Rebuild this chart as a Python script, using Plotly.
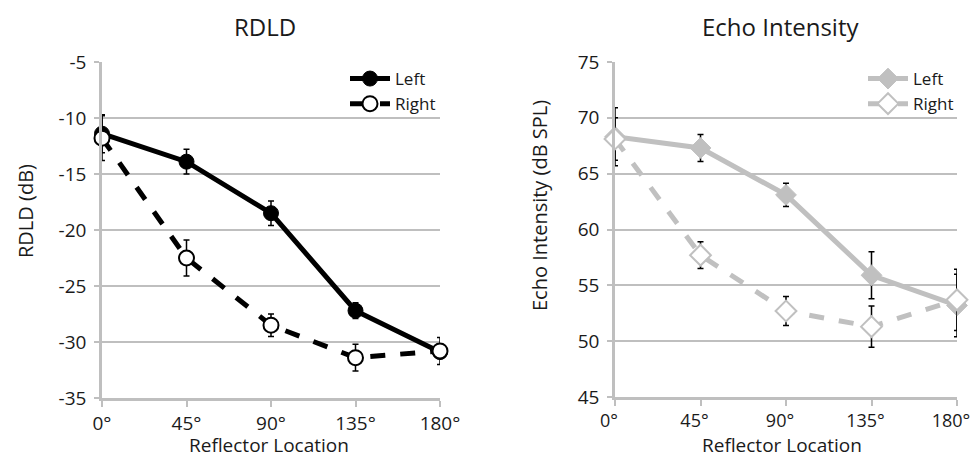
import plotly.graph_objects as go

# ---- data ----
angles = [0, 45, 90, 135, 180]
angle_labels = ["0°", "45°", "90°", "135°", "180°"]

rdld_left = [-11.4, -13.9, -18.5, -27.2, -30.9]
rdld_left_err = [1.7, 1.1, 1.1, 0.7, 0.5]
rdld_right = [-11.8, -22.5, -28.5, -31.4, -30.8]
rdld_right_err = [2.0, 1.6, 1.0, 1.2, 1.2]

echo_left = [68.3, 67.3, 63.1, 55.9, 53.2]
echo_left_err = [2.6, 1.2, 1.05, 2.1, 2.8]
echo_right = [68.1, 57.7, 52.7, 51.3, 53.7]
echo_right_err = [1.9, 1.2, 1.3, 1.85, 2.75]

rdld_ticks = [-5, -10, -15, -20, -25, -30, -35]
rdld_ticklabels = ["-5", "-10", "-15", "-20", "-25", "-30", "-35"]
echo_ticks = [75, 70, 65, 60, 55, 50, 45]
echo_ticklabels = ["75", "70", "65", "60", "55", "50", "45"]

FONT = "Open Sans"
GRID = "#bfbfbf"
LGRAY = "#c0c0c0"
TXT = "#1a1a1a"

fig = go.Figure()

def err(vals):
    return dict(type="data", array=vals, color="black", thickness=1.5, width=3)

fig.add_trace(go.Scatter(
    x=angles, y=rdld_left, name="Left", mode="lines+markers",
    line=dict(color="black", width=5),
    marker=dict(symbol="circle", size=15, color="black", line=dict(color="black", width=1)),
    error_y=err(rdld_left_err), xaxis="x", yaxis="y", legend="legend", cliponaxis=False))
fig.add_trace(go.Scatter(
    x=angles, y=rdld_right, name="Right", mode="lines+markers",
    line=dict(color="black", width=5, dash="dash"),
    marker=dict(symbol="circle", size=15, color="white", line=dict(color="black", width=2)),
    error_y=err(rdld_right_err), xaxis="x", yaxis="y", legend="legend", cliponaxis=False))

fig.add_trace(go.Scatter(
    x=angles, y=echo_left, name="Left", mode="lines+markers",
    line=dict(color=LGRAY, width=5),
    marker=dict(symbol="diamond", size=16, color=LGRAY, line=dict(color=LGRAY, width=1)),
    error_y=err(echo_left_err), xaxis="x2", yaxis="y2", legend="legend2", cliponaxis=False))
fig.add_trace(go.Scatter(
    x=angles, y=echo_right, name="Right", mode="lines+markers",
    line=dict(color=LGRAY, width=5, dash="dash"),
    marker=dict(symbol="diamond", size=16, color="white", line=dict(color=LGRAY, width=2)),
    error_y=err(echo_right_err), xaxis="x2", yaxis="y2", legend="legend2", cliponaxis=False))

# page body has an 8px margin; figure is sized to fit the 978x466 window exactly
OFF = 8
W, H = 978 - 2 * OFF, 466 - 2 * OFF
def px(x):
    return (x - OFF) / W
def py(y):
    return 1 - (y - OFF) / H

xcommon = dict(
    range=[0, 180], tickvals=angles, ticktext=angle_labels, automargin=False,
    showgrid=False, zeroline=False, showline=True, linecolor=GRID, linewidth=2.5,
    ticks="outside", ticklen=6, tickcolor=GRID, tickwidth=2, ticklabeloverflow="allow",
    tickfont=dict(family=FONT, size=19, color=TXT),
)
ycommon = dict(
    showgrid=True, gridcolor=GRID, gridwidth=2, zeroline=False, automargin=False,
    showline=True, linecolor=GRID, linewidth=2.5,
    ticks="outside", ticklen=5, tickcolor=GRID, tickwidth=2, ticklabelstandoff=4,
    tickfont=dict(family=FONT, size=19, color=TXT),
)

def ann(text, x, y, size, angle=0, yanchor="middle"):
    return dict(text=text, x=px(x), y=py(y), xref="paper", yref="paper",
                xanchor="center", yanchor=yanchor, textangle=angle,
                showarrow=False, font=dict(family=FONT, size=size, color=TXT))

x2 = dict(xcommon)
x2["tickfont"] = dict(family=FONT, size=18, color=TXT)
x2["ticklabelshift"] = -6

fig.update_layout(
    width=W, height=H,
    margin=dict(l=0, r=0, t=0, b=0, autoexpand=False),
    paper_bgcolor="white", plot_bgcolor="white",
    font=dict(family=FONT, color=TXT),
    xaxis=dict(domain=[px(102), px(440)], anchor="y", **xcommon),
    yaxis=dict(domain=[py(398), py(62)], anchor="x", range=[-35, -5],
               tickvals=rdld_ticks, ticktext=rdld_ticklabels, **ycommon),
    xaxis2=dict(domain=[px(615), px(957)], anchor="y2", **x2),
    yaxis2=dict(domain=[py(397), py(62)], anchor="x2", range=[45, 75],
                tickvals=echo_ticks, ticktext=echo_ticklabels, **ycommon),
    legend=dict(x=px(345), y=py(61), xanchor="left", yanchor="top",
                bgcolor="rgba(0,0,0,0)", font=dict(family=FONT, size=17, color=TXT),
                tracegroupgap=0, itemwidth=40),
    legend2=dict(x=px(863), y=py(61), xanchor="left", yanchor="top",
                 bgcolor="rgba(0,0,0,0)", font=dict(family=FONT, size=17, color=TXT),
                 tracegroupgap=0, itemwidth=40),
    showlegend=True,
    annotations=[
        ann("RDLD", 265, 26, 24),
        ann("Echo Intensity", 780, 26, 24),
        ann("RDLD (dB)", 25, 211, 20, -90),
        ann("Echo Intensity (dB SPL)", 540, 206, 20, -90),
        ann("Reflector Location", 269, 445, 19),
        ann("Reflector Location", 782, 445, 19),
    ],
)

fig.write_html("out.html")
